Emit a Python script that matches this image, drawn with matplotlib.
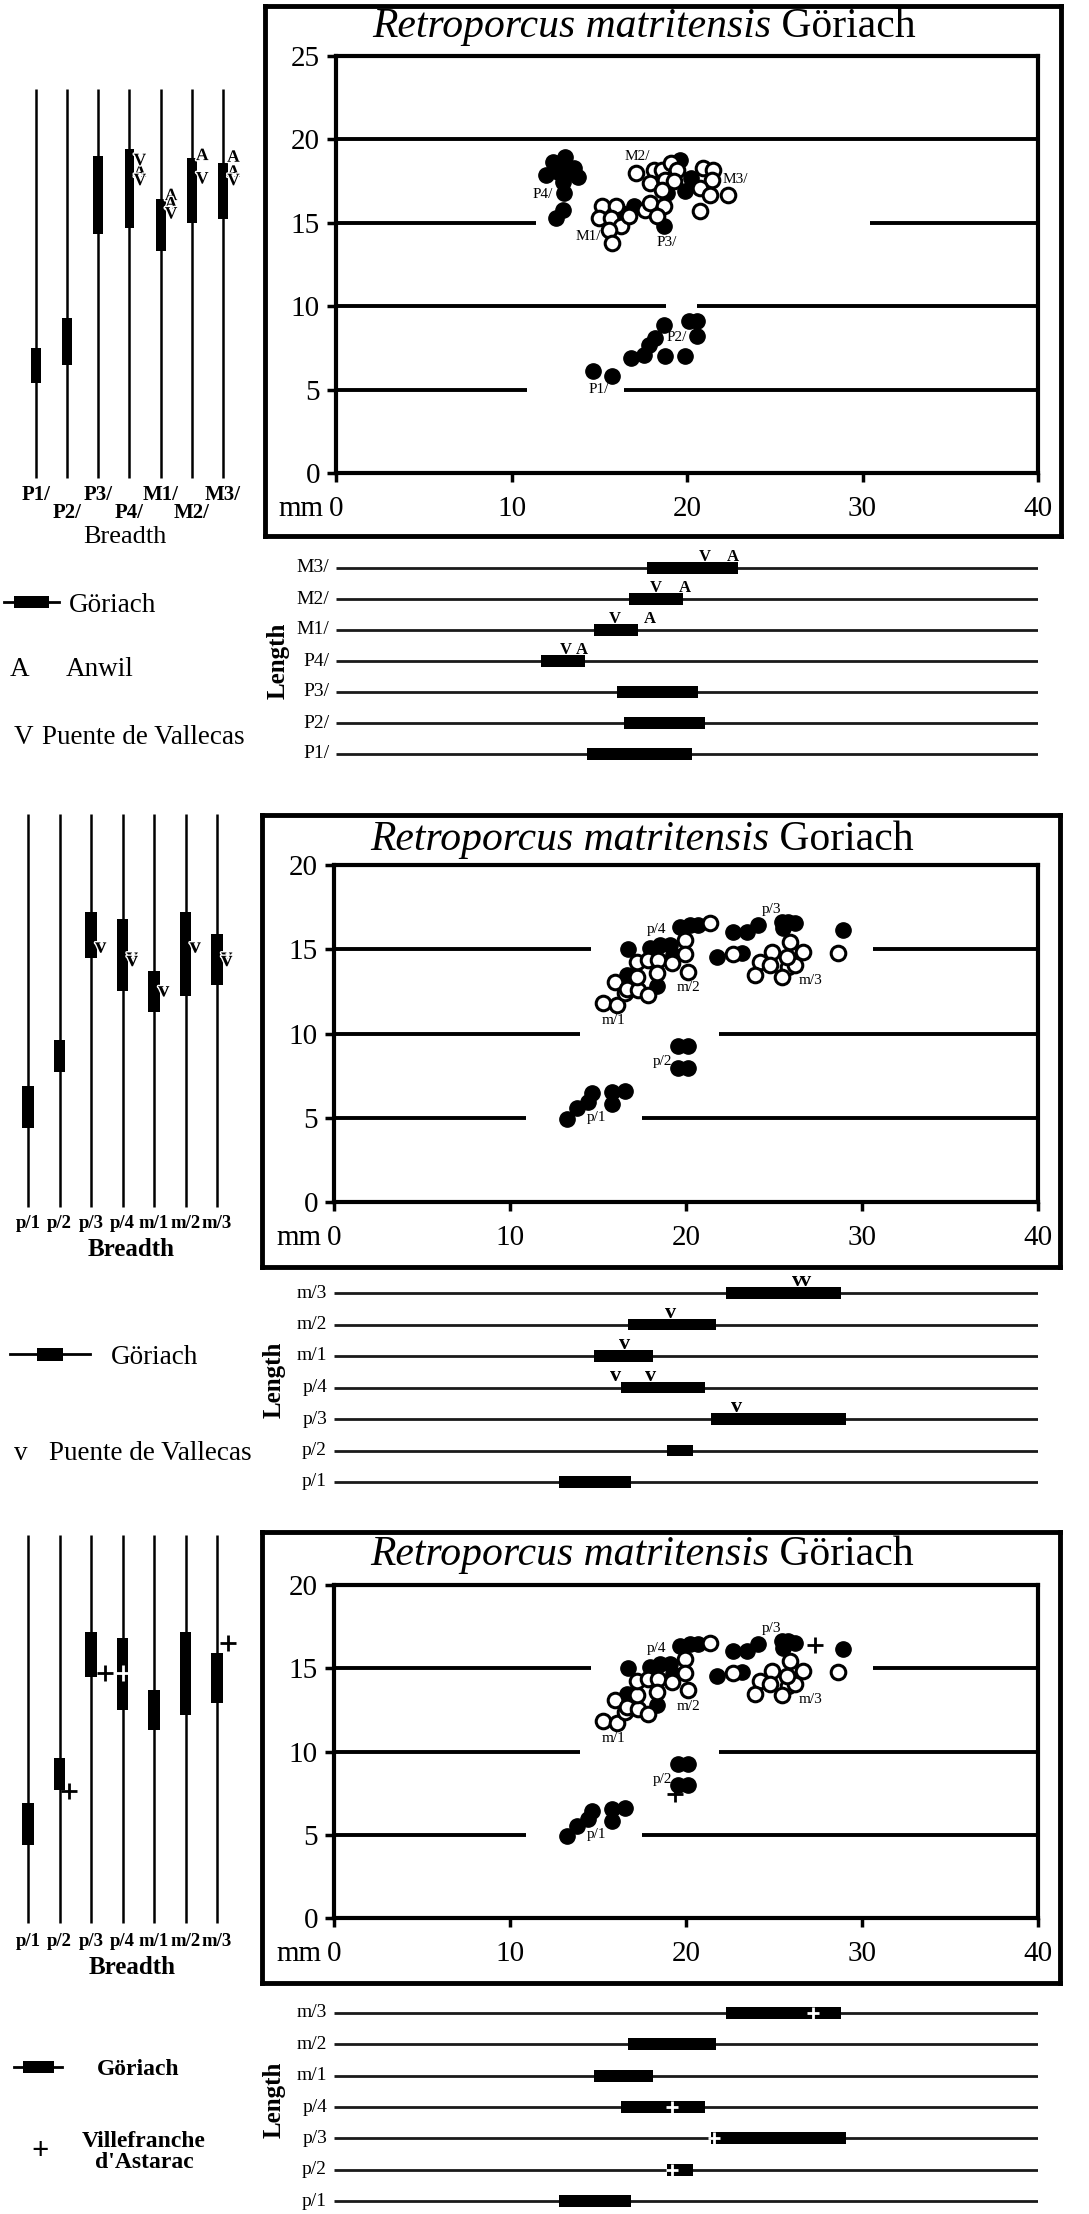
import numpy as np
import matplotlib
matplotlib.use("Agg")
import matplotlib.pyplot as plt
import matplotlib.transforms as mtransforms
import matplotlib.patheffects as pe
from matplotlib.lines import Line2D
from matplotlib.path import Path

plt.rcParams['font.family'] = ['Liberation Serif', 'DejaVu Serif']

# ======================= DATA =======================
# ---- upper teeth (top panel) ----
upper_teeth = ['P1/', 'P2/', 'P3/', 'P4/', 'M1/', 'M2/', 'M3/']
upper_breadth_min = [5.4, 6.5, 14.3, 14.7, 13.3, 15.0, 15.2]
upper_breadth_max = [7.5, 9.3, 19.0, 19.4, 16.4, 18.9, 18.6]
upper_length_min = [14.3, 16.4, 16.0, 11.7, 14.7, 16.7, 17.7]
upper_length_max = [20.3, 21.0, 20.6, 14.2, 17.2, 19.8, 22.9]

anwil_breadth_tooth = ['P4/', 'M1/', 'M1/', 'M2/', 'M3/', 'M3/']
anwil_breadth = [18.0, 16.6, 16.1, 19.0, 18.9, 18.0]
vallecas_up_breadth_tooth = ['P4/', 'P4/', 'M1/', 'M2/', 'M3/']
vallecas_up_breadth = [18.7, 17.5, 15.5, 17.6, 17.5]
anwil_length_tooth = ['P4/', 'M1/', 'M2/', 'M3/']
anwil_length = [14.0, 17.9, 19.9, 22.6]
vallecas_up_length_tooth = ['P4/', 'M1/', 'M2/', 'M3/']
vallecas_up_length = [13.1, 15.9, 18.2, 21.0]

# upper scatter: length (x) vs breadth (y)
up_p12_len = [14.62, 15.75, 16.79, 17.54, 17.82, 18.20, 18.68, 18.77, 19.90, 20.10, 20.57, 20.57]
up_p12_br = [6.1, 5.8, 6.9, 7.1, 7.7, 8.1, 8.9, 7.0, 7.0, 9.1, 9.1, 8.2]
up_p4_len = [13.07, 12.35, 12.82, 13.58, 11.97, 12.63, 13.20, 13.77, 12.92, 13.01, 12.92, 12.54]
up_p4_br = [18.97, 18.67, 18.57, 18.27, 17.87, 18.07, 17.97, 17.77, 17.47, 16.78, 15.78, 15.28]
up_p3_len = [18.68, 18.87, 19.90, 20.20, 19.62, 16.32, 16.98]
up_p3_br = [14.78, 16.78, 16.88, 17.68, 18.78, 15.58, 15.98]
up_m_len = [15.18, 15.94, 14.99, 15.66, 16.22, 15.56, 15.75, 16.70,
            17.63, 17.92, 18.68, 18.30,
            17.07, 18.11, 18.58, 19.06, 19.43, 17.92, 18.77, 19.24, 18.58,
            20.94, 21.50, 21.41, 20.75, 21.32, 22.36, 20.75]
up_m_br = [15.98, 15.98, 15.28, 15.28, 14.78, 14.58, 13.78, 15.38,
           15.78, 16.18, 15.98, 15.38,
           17.98, 18.18, 18.18, 18.58, 18.18, 17.38, 17.58, 17.48, 16.98,
           18.28, 18.18, 17.58, 17.08, 16.68, 16.68, 15.68]
up_label_text = ['P1/', 'P2/', 'P3/', 'P4/', 'M1/', 'M2/', 'M3/']
up_label_x = [14.99, 19.43, 18.87, 11.78, 14.40, 17.17, 22.74]
up_label_y = [5.0, 8.1, 13.8, 16.7, 14.2, 18.95, 17.6]

# ---- lower teeth (middle and bottom panels) ----
lower_teeth = ['p/1', 'p/2', 'p/3', 'p/4', 'm/1', 'm/2', 'm/3']
lower_breadth_min = [4.4, 7.7, 14.5, 12.5, 11.3, 12.2, 12.9]
lower_breadth_max = [6.9, 9.6, 17.2, 16.8, 13.7, 17.2, 15.9]
lower_length_min = [12.8, 18.9, 21.4, 16.3, 14.8, 16.7, 22.3]
lower_length_max = [16.9, 20.4, 29.1, 21.1, 18.1, 21.7, 28.8]

vallecas_low_breadth_tooth = ['p/3', 'p/4', 'p/4', 'm/1', 'm/2', 'm/3', 'm/3']
vallecas_low_breadth = [15.1, 14.5, 14.3, 12.5, 15.1, 14.5, 14.3]
vallecas_low_length_tooth = ['m/3', 'm/3', 'm/2', 'm/1', 'p/4', 'p/4', 'p/3']
vallecas_low_length = [26.35, 26.8, 19.1, 16.5, 16.0, 18.0, 22.9]

villefranche_breadth_tooth = ['p/2', 'p/3', 'p/4', 'm/3']
villefranche_breadth = [7.6, 14.7, 14.7, 16.5]
villefranche_length_tooth = ['m/3', 'p/4', 'p/3', 'p/2']
villefranche_length = [27.2, 19.2, 21.6, 19.2]
villefranche_sc_len = [27.33, 19.38]
villefranche_sc_br = [16.38, 7.43]

low_p1_len = [13.22, 13.79, 14.45, 14.64, 15.78, 15.78, 16.54]
low_p1_br = [4.95, 5.55, 5.94, 6.44, 6.54, 5.84, 6.60]
low_p2_len = [19.57, 20.14, 19.57, 20.14]
low_p2_br = [9.27, 9.27, 7.98, 7.98]
low_p4_len = [16.73, 17.96, 18.52, 19.09, 19.28, 16.63, 18.33, 19.66, 20.23, 20.70]
low_p4_br = [15.01, 15.05, 15.25, 15.25, 14.66, 13.47, 12.81, 16.34, 16.44, 16.44]
low_p3_len = [22.69, 23.45, 24.11, 25.44, 25.82, 26.20, 25.53, 28.94, 21.74, 23.17]
low_p3_br = [16.04, 16.04, 16.44, 16.63, 16.63, 16.54, 16.24, 16.14, 14.56, 14.76]
low_m_len = [15.30, 16.06, 15.97, 16.54, 16.63, 17.29, 17.86, 17.24, 17.20, 17.86, 18.43, 18.33,
             19.19, 19.94, 19.94, 20.14, 21.37,
             22.69, 25.91, 24.87, 24.21, 24.77, 25.82, 26.67, 26.20, 23.93, 25.44, 25.72, 28.66]
low_m_br = [11.82, 11.69, 13.07, 12.38, 12.67, 12.58, 12.28, 13.37, 14.26, 14.36, 14.36, 13.57,
            14.16, 15.55, 14.71, 13.67, 16.54,
            14.72, 15.45, 14.85, 14.26, 14.06, 13.96, 14.85, 14.06, 13.47, 13.37, 14.56, 14.76]
low_label_text = ['p/1', 'p/2', 'p/3', 'p/4', 'm/1', 'm/2', 'm/3']
low_label_x = [14.93, 18.67, 24.87, 18.33, 15.87, 20.14, 27.05]
low_label_y = [5.01, 8.32, 17.37, 16.18, 10.79, 12.73, 13.13]

# breaks in the horizontal reference lines (mm ranges left blank)
upper_gaps = {5: [(10.9, 16.4)], 10: [(18.8, 20.55)], 15: [(11.4, 30.4)], 20: []}
lower_gaps = {5: [(10.9, 17.5)], 10: [(14.0, 21.85)], 15: [(14.6, 30.6)]}

# ======================= FIGURE =======================
W, H = 1089, 2214
fig = plt.figure(figsize=(W / 100, H / 100), dpi=100)
pxT = mtransforms.Affine2D().scale(1.0 / W, -1.0 / H).translate(0, 1.0) + fig.transFigure


def px_axes(x0, y0, x1, y1, z=1):
    ax = fig.add_axes([x0 / W, 1 - y1 / H, (x1 - x0) / W, (y1 - y0) / H])
    ax.set_zorder(z)
    return ax


def draw_box(x0, y0, x1, y1):
    ax = px_axes(x0, y0, x1, y1, z=0)
    ax.set_xticks([])
    ax.set_yticks([])
    ax.patch.set_alpha(0)
    for s in ax.spines.values():
        s.set_linewidth(3.5)
    return ax


def draw_title(ax_box, x, y, species, site):
    t = fig.text(x, y, species, transform=pxT, fontsize=30, style='italic',
                 ha='left', va='center')
    ax_box.annotate(' ' + site, xy=(1, 0), xycoords=t, ha='left', va='bottom',
                    fontsize=30)


def draw_scatter(rect, ymax, gaps, filled, opened, labels):
    ax = px_axes(*rect, z=2)
    ax.patch.set_alpha(0)
    ax.set_xlim(0, 40)
    ax.set_ylim(0, ymax)
    ax.set_xticks(np.arange(0, 41, 10))
    ax.set_yticks(np.arange(0, ymax + 1, 5))
    ax.tick_params(direction='out', length=6.5, width=2.5, labelsize=21)
    ax.tick_params(axis='x', pad=10)
    ax.tick_params(axis='y', pad=5)
    for s in ax.spines.values():
        s.set_linewidth(3)
    for level, gl in gaps.items():
        starts, ends = [0], []
        for a, b in gl:
            ends.append(a)
            starts.append(b)
        ends.append(40)
        ax.hlines([level] * len(starts), starts, ends, color='k', lw=2.8, zorder=1)
    for fx, fy in filled:
        ax.plot(fx, fy, 'o', ls='none', mfc='k', mec='k', ms=11, mew=1, zorder=3)
    for ox, oy in opened:
        ax.plot(ox, oy, 'o', ls='none', mfc='white', mec='k', ms=10.5, mew=2.2, zorder=4)
    for s, x, y in zip(*labels):
        ax.text(x, y, s, ha='center', va='center', fontsize=11, zorder=6)
    ax.annotate('mm', xy=(0, 0), xycoords='data', xytext=(-9, -16.5),
                textcoords='offset points', ha='right', va='top', fontsize=21,
                annotation_clip=False)
    return ax


def draw_breadth(rect, ymax, teeth, lo, hi, barw, label_rows_px, fs_lab):
    ax = px_axes(*rect, z=2)
    ax.axis('off')
    ax.set_xlim(0.5, 7.5)
    ax.set_ylim(0, ymax)
    xs = np.arange(1, len(teeth) + 1)
    ax.vlines(xs, -0.3, 23.0, color='k', lw=1.8, clip_on=False)
    ax.bar(xs, np.subtract(hi, lo), bottom=lo, width=barw, color='k',
           clip_on=False, zorder=3)
    tr = mtransforms.blended_transform_factory(ax.transData, pxT)
    for i, (x, t) in enumerate(zip(xs, teeth)):
        ax.text(x, label_rows_px[i % len(label_rows_px)], t, transform=tr,
                ha='center', va='center', fontsize=fs_lab, fontweight='bold')
    return ax


def breadth_letters(ax, teeth, tooth_list, values, letter, fs, dx):
    for t, v in zip(tooth_list, values):
        ax.annotate(letter, xy=(teeth.index(t) + 1, v), xytext=(dx, 0),
                    textcoords='offset points', ha='center', va='center',
                    fontsize=fs, fontweight='bold', zorder=5, annotation_clip=False,
                    path_effects=[pe.withStroke(linewidth=2, foreground='white')])


def draw_length(rect, teeth, lo, hi, fs, bh):
    ax = px_axes(*rect, z=2)
    ax.axis('off')
    ax.set_xlim(0, 40)
    ax.set_ylim(-0.5, len(teeth) - 0.5)
    ys = np.arange(len(teeth))
    ax.hlines(ys, 0, 40, color='#1a1a1a', lw=2.0)
    ax.barh(ys, np.subtract(hi, lo), left=lo, height=bh, color='k', zorder=3)
    for y, t in zip(ys, teeth):
        ax.annotate(t, xy=(0, y), xytext=(-5, 0), textcoords='offset points',
                    ha='right', va='center', fontsize=fs, annotation_clip=False)
    return ax


def length_letters(ax, teeth, tooth_list, values, letter, fs, bh):
    for t, v in zip(tooth_list, values):
        ax.annotate(letter, xy=(v, teeth.index(t) + bh / 2), xytext=(0, 0.5),
                    textcoords='offset points', ha='center', va='baseline',
                    fontsize=fs, fontweight='bold', zorder=5, annotation_clip=False)


def goriach_key(x_px, y_px, fs, bold, line_px, rect_w, rect_h, pad_px):
    em = fs * 100 / 72.0
    h = rect_h / rect_w
    verts = [(-1, -h), (1, -h), (1, h), (-1, h), (-1, -h)]
    codes = [Path.MOVETO, Path.LINETO, Path.LINETO, Path.LINETO, Path.CLOSEPOLY]
    box = Line2D([], [], ls='none', marker=Path(verts, codes), ms=rect_w * 0.72,
                 mfc='k', mec='k', mew=0)
    ln = Line2D([], [], color='k', lw=2)
    fig.legend(handles=[(ln, box)], labels=['Göriach'], loc='center left',
               bbox_to_anchor=(x_px / W, 1 - y_px / H), frameon=False,
               borderpad=0, borderaxespad=0, handlelength=line_px / em,
               handletextpad=pad_px / em,
               prop={'size': fs, 'weight': 'bold' if bold else 'normal'})


def ftext(x, y, s, **kw):
    return fig.text(x, y, s, transform=pxT, **kw)


# ======================= TOP PANEL =======================
box1 = draw_box(265, 6, 1061, 536)
draw_title(box1, 372, 27, 'Retroporcus matritensis', 'Göriach')
sc1 = draw_scatter((336, 56, 1038, 473), 25, upper_gaps,
                   [(up_p12_len, up_p12_br), (up_p4_len, up_p4_br), (up_p3_len, up_p3_br)],
                   [(up_m_len, up_m_br)],
                   (up_label_text, up_label_x, up_label_y))
br1 = draw_breadth((20.4, 56, 238.6, 473), 25, upper_teeth, upper_breadth_min,
                   upper_breadth_max, 0.32, [495, 513], 15)
breadth_letters(br1, upper_teeth, anwil_breadth_tooth, anwil_breadth, 'A', 12.5, 7.5)
breadth_letters(br1, upper_teeth, vallecas_up_breadth_tooth, vallecas_up_breadth, 'V', 12.5, 7.5)
ftext(125, 537, 'Breadth', fontsize=19, ha='center', va='center')

ln1 = draw_length((336, 552.5, 1038, 769.5), upper_teeth, upper_length_min,
                  upper_length_max, 14, 0.38)
length_letters(ln1, upper_teeth, vallecas_up_length_tooth, vallecas_up_length, 'V', 12, 0.38)
length_letters(ln1, upper_teeth, anwil_length_tooth, anwil_length, 'A', 12, 0.38)
ftext(278, 661, 'Length', fontsize=18, fontweight='bold', rotation=90,
      ha='center', va='center')

goriach_key(4, 605, 19.5, False, 55, 35, 12, 10)
ftext(10, 670, 'A', fontsize=19.5, ha='left', va='center')
ftext(66, 670, 'Anwil', fontsize=19.5, ha='left', va='center')
ftext(14, 737, 'V', fontsize=19.5, ha='left', va='center')
ftext(42, 737, 'Puente de Vallecas', fontsize=19.5, ha='left', va='center')

# ======================= MIDDLE PANEL =======================
low_filled = [(low_p1_len, low_p1_br), (low_p2_len, low_p2_br),
              (low_p4_len, low_p4_br), (low_p3_len, low_p3_br)]
low_open = [(low_m_len, low_m_br)]
low_labels = (low_label_text, low_label_x, low_label_y)

box2 = draw_box(262, 815, 1060, 1267)
draw_title(box2, 370, 840, 'Retroporcus matritensis', 'Goriach')
sc2 = draw_scatter((334, 865, 1038, 1202), 20, lower_gaps, low_filled, low_open, low_labels)
br2 = draw_breadth((12.25, 865, 232.75, 1202), 20, lower_teeth, lower_breadth_min,
                   lower_breadth_max, 0.35, [1223], 13.5)
breadth_letters(br2, lower_teeth, vallecas_low_breadth_tooth, vallecas_low_breadth, 'v', 16, 7)
ftext(131, 1250, 'Breadth', fontsize=18, fontweight='bold', ha='center', va='center')

ln2 = draw_length((334, 1277.25, 1038, 1497.75), lower_teeth, lower_length_min,
                  lower_length_max, 14, 0.38)
length_letters(ln2, lower_teeth, vallecas_low_length_tooth, vallecas_low_length, 'v', 16, 0.38)
ftext(274, 1380, 'Length', fontsize=18, fontweight='bold', rotation=90,
      ha='center', va='center')

goriach_key(10, 1357, 19.5, False, 80, 26, 13, 21)
ftext(14, 1453, 'v', fontsize=19.5, ha='left', va='center')
ftext(49, 1453, 'Puente de Vallecas', fontsize=19.5, ha='left', va='center')

# ======================= BOTTOM PANEL =======================
box3 = draw_box(262, 1532, 1060, 1983)
draw_title(box3, 370, 1555, 'Retroporcus matritensis', 'Göriach')
sc3 = draw_scatter((334, 1585, 1038, 1918), 20, lower_gaps, low_filled, low_open, low_labels)
sc3.plot(villefranche_sc_len, villefranche_sc_br, '+', ls='none', color='k',
         ms=12, mew=2, zorder=6)
br3 = draw_breadth((12.25, 1585, 232.75, 1918), 20, lower_teeth, lower_breadth_min,
                   lower_breadth_max, 0.35, [1942], 13.5)
plus_dx = [7, 10, 0, 8]
plus_col = ['k', 'k', 'white', 'k']
for t, v, dx, c in zip(villefranche_breadth_tooth, villefranche_breadth, plus_dx, plus_col):
    off = mtransforms.ScaledTranslation(dx / 72.0, 0, fig.dpi_scale_trans)
    br3.plot([lower_teeth.index(t) + 1], [v], '+', color=c, ms=11, mew=2,
             transform=br3.transData + off, clip_on=False, zorder=6)
ftext(132, 1968, 'Breadth', fontsize=18, fontweight='bold', ha='center', va='center')

ln3 = draw_length((334, 1997.3, 1038, 2216.7), lower_teeth, lower_length_min,
                  lower_length_max, 14, 0.38)
ln3.plot(villefranche_length, [lower_teeth.index(t) for t in villefranche_length_tooth],
         '+', ls='none', color='white', ms=9, mew=2, zorder=6)
ftext(274, 2100, 'Length', fontsize=18, fontweight='bold', rotation=90,
      ha='center', va='center')

goriach_key(14, 2069, 17, True, 48, 31, 12, 35)
ftext(40, 2152, '+', fontsize=22, fontweight='bold', ha='center', va='center')
ftext(144, 2152, "Villefranche\nd'Astarac", fontsize=17, fontweight='bold',
      ha='center', va='center', multialignment='center', linespacing=1.05)

fig.savefig('out.png', dpi=100)
